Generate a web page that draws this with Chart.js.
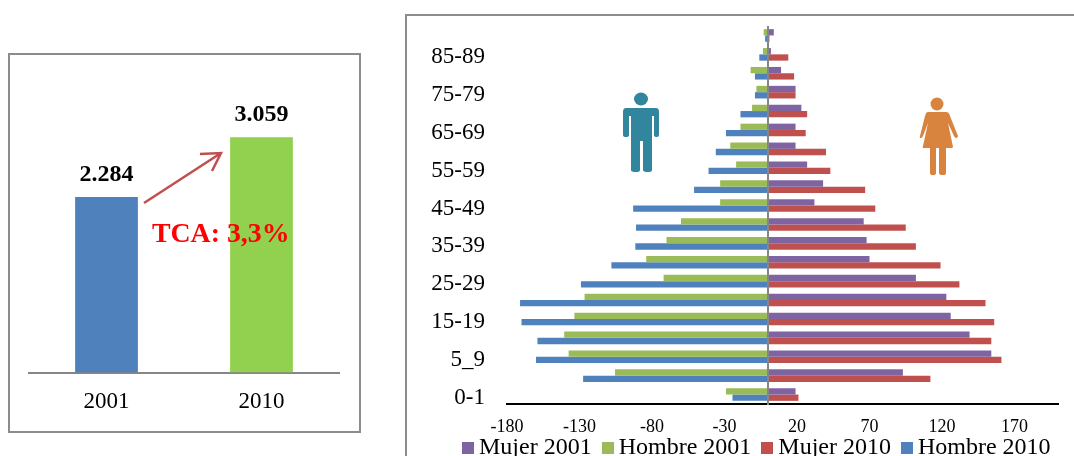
<!DOCTYPE html>
<html>
<head>
<meta charset="utf-8">
<title>Población</title>
<script src="https://cdn.jsdelivr.net/npm/chart.js@4"></script>
<style>
  html, body { margin: 0; padding: 0; background: #fff; width: 1074px; height: 456px; overflow: hidden; }
  canvas { position: absolute; }
  #leftBox { position: absolute; left: 8px; top: 53px; width: 353px; height: 380px; box-sizing: border-box; border: 2px solid #8c8c8c; }
  #rightBox { position: absolute; left: 405px; top: 14px; width: 669px; height: 442px; box-sizing: border-box; border-left: 2px solid #8c8c8c; border-top: 2px solid #8c8c8c; }
  #totalChart { left: 8px; top: 53px; }
  #pyramidChart { left: 405px; top: 14px; }
  #pyramidLegend { position: absolute; left: 462px; top: 433px; display: flex; font: 24px "Liberation Serif", serif; line-height: 27px; color: #000; white-space: nowrap; }
  #pyramidLegend span.item { display: flex; align-items: center; margin-right: 10px; }
  #pyramidLegend i { display: block; width: 12px; height: 12px; margin-right: 5px; margin-top: 3px; }
  svg { position: absolute; }
</style>
</head>
<body>
<div id="leftBox"></div>
<div id="rightBox"></div>
<canvas id="totalChart" width="352" height="379"></canvas>
<canvas id="pyramidChart" width="669" height="442"></canvas>
<div id="pyramidLegend"></div>

<!-- man icon -->
<svg style="left:610px;top:85px" width="70" height="95" viewBox="0 0 70 95">
  <ellipse cx="31" cy="14" rx="7" ry="6.5" fill="#31859c"/>
  <path d="M16 23 H46 Q49 23 49 27 V50 Q49 52 47 52 Q44 52 44 50 V31 H42 V85 Q42 87 38 87 Q33 87 33 85 V56 H30 V85 Q30 87 26 87 Q21 87 21 85 V31 H19 V50 Q19 52 16 52 Q13 52 13 50 V27 Q13 23 16 23 Z" fill="#31859c"/>
</svg>
<!-- woman icon -->
<svg style="left:905px;top:90px" width="70" height="95" viewBox="0 0 70 95">
  <circle cx="32" cy="14" r="6.5" fill="#d8843f"/>
  <path d="M23 22 H41 Q44 22 45 26 L53 46 Q53 48 51 48 Q50 48 49 46 L43 33 L48 57 Q48 58 46 58 H41 V83 Q41 85 38 85 Q34 85 34 83 V58 H31 V83 Q31 85 28 85 Q25 85 25 83 V58 H19 Q17 58 18 56 L23 33 L18 46 Q17 48 16 48 Q14 48 15 46 L20 26 Q21 22 23 22 Z" fill="#d8843f"/>
</svg>

<script>
var totalYears = ['2001', '2010'];
var totalValues = [2284, 3059];
var totalColors = ['#4f81bd', '#92d050'];
var growthLabel = 'TCA: 3,3%';

var ageGroups = ['90+', '85-89', '80-84', '75-79', '70-74', '65-69', '60-64', '55-59', '50-54', '45-49',
  '40-44', '35-39', '30-34', '25-29', '20-24', '15-19', '10-14', '5_9', '1-4', '0-1'];
var mujer2001 = [4, 2, 9, 19, 23, 19, 19, 27, 38, 32, 66, 68, 70, 102, 123, 126, 139, 154, 93, 19];
var hombre2001 = [-3, -3.5, -12, -8, -11, -19, -26, -22, -33, -33, -60, -70, -84, -72, -126.5, -133.5, -140.5, -137.5, -105.5, -29];
var mujer2010 = [1, 14, 18, 19, 27, 26, 40, 43, 67, 74, 95, 102, 119, 132, 150, 156, 154, 161, 112, 21];
var hombre2010 = [-2, -6, -9, -9, -19, -29, -36, -41, -51, -93, -91, -91.5, -108, -129, -171, -170, -159, -160, -127.5, -24.5];
var pyramidTicks = [-180, -130, -80, -30, 20, 70, 120, 170];

var serif = '"Liberation Serif", serif';
Chart.defaults.animation = false;
Chart.defaults.color = '#000';
Chart.defaults.font.family = serif;

// value labels, growth arrow and text on the left chart
var totalOverlay = {
  id: 'totalOverlay',
  afterDatasetsDraw: function (chart) {
    var c = chart.ctx;
    c.save();
    c.fillStyle = '#000';
    c.font = 'bold 24px ' + serif;
    c.textAlign = 'center';
    c.textBaseline = 'alphabetic';
    chart.getDatasetMeta(0).data.forEach(function (bar, i) {
      c.fillText((totalValues[i] / 1000).toFixed(3), bar.x, bar.y - 16);
    });

    c.strokeStyle = '#c0504d';
    c.lineWidth = 2.5;
    c.beginPath();
    c.moveTo(136, 150);
    c.lineTo(213, 100);
    c.moveTo(192, 101);
    c.lineTo(213, 100);
    c.lineTo(204, 118);
    c.stroke();

    c.fillStyle = '#ff0000';
    c.font = 'bold 27.8px ' + serif;
    c.textAlign = 'left';
    c.fillText(growthLabel, 144, 189);
    c.restore();
  }
};

new Chart(document.getElementById('totalChart'), {
  type: 'bar',
  data: {
    labels: totalYears,
    datasets: [{
      data: totalValues,
      backgroundColor: totalColors,
      categoryPercentage: 0.405,
      barPercentage: 1
    }]
  },
  options: {
    responsive: false,
    layout: { padding: { left: 21, right: 21, top: 12, bottom: 0 } },
    plugins: { legend: { display: false }, tooltip: { enabled: false } },
    scales: {
      y: { display: false, min: 0, max: 4000 },
      x: {
        grid: { display: false, drawTicks: false },
        border: { color: '#868686', width: 2 },
        ticks: { font: { size: 23 }, padding: 16, maxRotation: 0 },
        afterFit: function (scale) { scale.height = 59.5; }
      }
    }
  },
  plugins: [totalOverlay]
});

// vertical line at zero on the pyramid
var zeroLine = {
  id: 'zeroLine',
  afterDatasetsDraw: function (chart) {
    var c = chart.ctx;
    var x = chart.scales.x.getPixelForValue(0);
    c.save();
    c.strokeStyle = '#868686';
    c.lineWidth = 2;
    c.beginPath();
    c.moveTo(x, chart.chartArea.top);
    c.lineTo(x, chart.chartArea.bottom + 1);
    c.stroke();
    c.restore();
  }
};

var pyramid = new Chart(document.getElementById('pyramidChart'), {
  type: 'bar',
  data: {
    labels: ageGroups,
    datasets: [
      { label: 'Mujer 2001', data: mujer2001, backgroundColor: '#8064a2', stack: 'a' },
      { label: 'Hombre 2001', data: hombre2001, backgroundColor: '#9bbb59', stack: 'a' },
      { label: 'Mujer 2010', data: mujer2010, backgroundColor: '#c0504d', stack: 'b' },
      { label: 'Hombre 2010', data: hombre2010, backgroundColor: '#4f81bd', stack: 'b' }
    ]
  },
  options: {
    responsive: false,
    indexAxis: 'y',
    datasets: { bar: { categoryPercentage: 0.667, barPercentage: 1 } },
    layout: { padding: { left: 0, right: 16, top: 12, bottom: 0 } },
    plugins: { legend: { display: false }, tooltip: { enabled: false } },
    scales: {
      x: {
        stacked: true,
        min: -180,
        max: 200,
        grid: { display: false, drawTicks: false },
        border: { color: '#000', width: 2 },
        ticks: { font: { size: 18 }, padding: 12, maxRotation: 0, autoSkip: false },
        afterBuildTicks: function (scale) {
          scale.ticks = pyramidTicks.map(function (v) { return { value: v }; });
        },
        afterFit: function (scale) { scale.height = 52; }
      },
      y: {
        stacked: true,
        grid: { display: false, drawTicks: false },
        border: { display: false },
        ticks: {
          font: { size: 23 },
          padding: 22,
          labelOffset: 3,
          autoSkip: false,
          // only every second age group is labelled
          callback: function (value, index) {
            return index % 2 === 1 ? ageGroups[index] : '';
          }
        },
        afterFit: function (scale) {
          scale.width = 102;
          // tick padding would otherwise eat into the plot height
          scale.paddingTop = 0;
          scale.paddingBottom = 0;
        }
      }
    }
  },
  plugins: [zeroLine]
});

// legend built from the chart's own datasets
var legendBox = document.getElementById('pyramidLegend');
pyramid.data.datasets.forEach(function (ds) {
  var item = document.createElement('span');
  item.className = 'item';
  var swatch = document.createElement('i');
  swatch.style.background = ds.backgroundColor;
  item.appendChild(swatch);
  item.appendChild(document.createTextNode(ds.label));
  legendBox.appendChild(item);
});
</script>
</body>
</html>
